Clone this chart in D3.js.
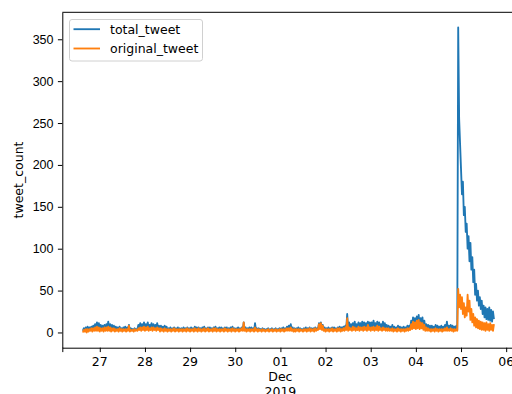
<!DOCTYPE html>
<html>
<head>
<meta charset="utf-8">
<script src="https://cdn.jsdelivr.net/npm/d3@7"></script>
<style>
  html, body { margin: 0; padding: 0; background: #fff; overflow: hidden; }
  svg { display: block; font-family: "DejaVu Sans", sans-serif; }
</style>
</head>
<body>
<svg id="chart" width="512" height="394"></svg>
<script>
// Half-hourly tweet counts, starting 26 Nov 2019 15:00 UTC
const seriesStart = "2019-11-26T15:00:00Z";
const stepMinutes = 30;

const totalTweet = [
  // 26 Nov 15:00-23:30
  2,5,3,6,2,7,3,6,4,7,3,8,4,10,5,12,4,11,
  // 27 Nov
  3,9,4,8,3,9,4,10, 5,13,4,10,3,9,4,8, 2,7,3,6,2,7,3,5, 2,6,3,7,2,6,3,9, 2,5,3,4,2,5,3,4, 4,9,5,11,4,10,5,12,
  // 28 Nov
  4,10,5,12,4,9,5,11, 4,10,5,9,4,11,5,8, 3,8,4,7,3,8,4,7, 2,5,3,6,2,5,3,6, 2,5,3,6,2,5,3,5, 2,6,3,5,2,6,3,5,
  // 29 Nov
  2,6,3,5,2,7,3,6, 2,6,3,5,2,6,3,7, 2,5,3,6,2,6,3,5, 2,6,3,7,2,5,3,6, 2,6,3,5,2,6,3,6, 2,5,3,6,2,7,3,5,
  // 30 Nov
  2,5,3,6,2,5,3,6, 3,12,3,6,2,5,3,6, 2,6,3,5,2,11,3,5, 2,5,3,4,2,5,3,4, 2,4,3,5,2,4,3,5, 2,4,3,5,2,4,3,5,
  // 01 Dec
  2,5,3,6,2,5,3,7, 3,8,4,10,3,6,2,5, 2,5,3,6,2,5,3,4, 2,5,3,6,2,5,3,6, 2,5,3,5,2,6,3,5, 4,11,5,12,4,9,3,6,
  // 02 Dec
  2,5,3,6,2,5,3,6, 2,6,3,5,2,6,3,7, 2,6,3,7,3,8,5,22, 4,12,5,10,4,11,5,13, 4,10,5,12,4,11,5,13, 4,12,5,11,4,13,5,12,
  // 03 Dec
  4,12,5,14,4,11,5,13, 4,12,5,10,4,13,5,11, 3,9,4,8,3,7,4,9, 3,7,4,6,3,8,4,7, 3,6,4,7,3,6,4,8, 3,8,5,14,6,18,7,17,
  // 04 Dec
  6,19,7,21,6,17,7,18, 5,14,4,10,4,9,3,8, 3,8,4,7,3,9,4,8, 3,7,4,8,3,7,4,9, 4,13,3,8,4,9,3,8, 3,7,4,8,3,364,255,225,
  // 05 Dec 00:00-17:30
  195,165,180,140,150,120,130,100,115,85,107,75,90,60,75,45,58,38,50,32,42,28,38,22,32,18,30,16,28,15,30,14,27,13,25,16
];

const originalTweet = [
  // 26 Nov 15:00-23:30
  0,3,1,4,0,4,1,4,2,5,1,5,2,6,2,7,2,6,
  // 27 Nov
  1,5,2,5,1,6,2,6, 2,7,2,6,1,5,2,5, 1,4,2,4,1,5,2,4, 1,4,2,4,1,4,2,8, 1,3,2,3,1,4,2,3, 2,5,3,6,2,6,3,7,
  // 28 Nov
  2,6,3,7,2,5,3,6, 2,6,3,5,2,6,3,5, 1,5,2,4,1,5,2,4, 1,4,2,4,1,4,2,5, 1,4,2,4,1,4,2,4, 1,4,2,4,1,5,2,4,
  // 29 Nov
  1,4,2,4,1,5,2,4, 1,5,2,4,1,4,2,5, 1,4,2,5,1,4,2,4, 1,5,2,5,1,4,2,4, 1,4,2,4,1,5,2,4, 1,4,2,4,1,5,2,4,
  // 30 Nov
  1,4,2,4,1,4,2,5, 2,12,2,4,1,4,2,4, 1,4,2,4,1,6,2,4, 1,4,2,3,1,4,2,3, 1,3,2,4,1,3,2,4, 1,3,2,4,1,3,2,4,
  // 01 Dec
  1,4,2,4,1,4,2,5, 2,5,2,6,2,4,1,4, 1,4,2,4,1,4,2,3, 1,4,2,4,1,4,2,5, 1,4,2,4,1,5,2,4, 3,10,4,11,3,8,2,4,
  // 02 Dec
  1,4,2,4,1,4,2,5, 1,4,2,4,1,5,2,5, 1,4,2,5,2,6,3,17, 2,6,3,5,2,7,3,6, 2,5,3,7,2,6,3,6, 2,7,3,6,2,9,3,6,
  // 03 Dec
  2,6,3,7,2,6,3,8, 2,7,3,5,2,6,3,5, 2,5,2,5,2,4,2,5, 1,4,2,4,1,5,2,4, 1,4,2,4,1,4,2,5, 2,5,3,10,4,13,5,12,
  // 04 Dec
  4,14,5,15,4,12,5,11, 3,9,2,6,2,5,2,4, 1,4,2,4,1,5,2,4, 1,4,2,4,1,4,2,5, 2,6,2,4,2,5,2,4, 1,4,2,4,2,52,30,45,
  // 05 Dec 00:00-17:30
  28,42,22,35,18,30,20,45,25,38,15,28,12,22,8,18,6,16,5,14,4,13,3,12,3,11,2,12,3,10,2,11,3,9,2,10
];

const seriesNames = ["total_tweet", "original_tweet"];
const seriesColors = ["#1f77b4", "#ff7f0e"];

const dayTicks = ["2019-11-27", "2019-11-28", "2019-11-29", "2019-11-30", "2019-12-01",
                  "2019-12-02", "2019-12-03", "2019-12-04", "2019-12-05", "2019-12-06"];
const dayLabels = [["27"], ["28"], ["29"], ["30"], ["01", "Dec", "2019"],
                   ["02"], ["03"], ["04"], ["05"], ["06"]];
const yTicks = [0, 50, 100, 150, 200, 250, 300, 350];
const yLabel = "tweet_count";

// ---- layout
const plot = { left: 62.3, right: 514.5, top: 12.3, bottom: 347.7 };
const tickLen = 4.4;
const fontSize = 12.5;
const lineGap = 14.8;

const svg = d3.select("#chart");

const t0 = new Date(seriesStart);
const times = totalTweet.map((_, i) => d3.utcMinute.offset(t0, i * stepMinutes));

// 5% margins around the data extent on both axes
const [tMin, tMax] = d3.extent(times);
const tPad = (tMax - tMin) * 0.05;
const x = d3.scaleUtc()
  .domain([new Date(+tMin - tPad), new Date(+tMax + tPad)])
  .range([plot.left, plot.right]);

const allValues = totalTweet.concat(originalTweet);
const yMax = d3.max(allValues);
const yMin = d3.min(allValues);
const yPad = (yMax - yMin) * 0.05;
const y = d3.scaleLinear()
  .domain([yMin - yPad, yMax + yPad])
  .range([plot.bottom, plot.top]);

// ---- series
svg.append("defs").append("clipPath").attr("id", "plotClip")
  .append("rect")
  .attr("x", plot.left).attr("y", plot.top)
  .attr("width", plot.right - plot.left).attr("height", plot.bottom - plot.top);

const seriesData = [totalTweet, originalTweet];
const line = d3.line()
  .x((d, i) => x(times[i]))
  .y(d => y(d));

svg.append("g").attr("clip-path", "url(#plotClip)")
  .selectAll("path")
  .data(seriesData)
  .join("path")
  .attr("d", d => line(d))
  .attr("fill", "none")
  .attr("stroke", (d, i) => seriesColors[i])
  .attr("stroke-width", 1.85)
  .attr("stroke-linejoin", "round");

// ---- x axis: day ticks plus an unlabelled tick at the left limit
const tickDates = dayTicks.map(s => new Date(s + "T00:00:00Z"));
const xTickValues = [x.domain()[0]].concat(tickDates);

svg.append("g")
  .attr("class", "x-axis")
  .attr("transform", `translate(0,${plot.bottom})`)
  .call(d3.axisBottom(x)
    .tickValues(xTickValues)
    .tickSize(tickLen)
    .tickSizeOuter(0)
    .tickFormat(""));
svg.selectAll(".x-axis .tick text").remove();

// ---- y axis
const yAxis = svg.append("g")
  .attr("transform", `translate(${plot.left},0)`)
  .call(d3.axisLeft(y)
    .tickValues(yTicks)
    .tickSize(tickLen)
    .tickSizeOuter(0)
    .tickPadding(4.4));
yAxis.selectAll(".tick text").attr("font-size", fontSize).attr("fill", "#000");

svg.selectAll(".domain, .tick line").attr("stroke", "#000").attr("stroke-width", 1);

// top and right spines
svg.append("line")
  .attr("x1", plot.left).attr("x2", plot.right)
  .attr("y1", plot.top).attr("y2", plot.top)
  .attr("stroke", "#000").attr("stroke-width", 1);
svg.append("line")
  .attr("x1", plot.right).attr("x2", plot.right)
  .attr("y1", plot.top).attr("y2", plot.bottom)
  .attr("stroke", "#000").attr("stroke-width", 1);

// y axis title
svg.append("text")
  .attr("transform", `translate(18,${(plot.top + plot.bottom) / 2}) rotate(-90)`)
  .attr("text-anchor", "middle")
  .attr("dominant-baseline", "central")
  .attr("font-size", fontSize)
  .attr("fill", "#000")
  .text(yLabel);

// ---- legend
const legend = svg.append("g").attr("transform", "translate(69.5,19.5)");
legend.append("rect")
  .attr("width", 133).attr("height", 41.5)
  .attr("rx", 2.5)
  .attr("fill", "#fff").attr("fill-opacity", 0.8)
  .attr("stroke", "#d0d0d0").attr("stroke-width", 1);

const items = legend.selectAll("g.item")
  .data(seriesNames)
  .join("g")
  .attr("class", "item")
  .attr("transform", (d, i) => `translate(0,${9.7 + i * 19.3})`);
items.append("line")
  .attr("x1", 4).attr("x2", 30.5)
  .attr("stroke", (d, i) => seriesColors[i])
  .attr("stroke-width", 1.85);
items.append("text")
  .attr("x", 40.5)
  .attr("dominant-baseline", "central")
  .attr("font-size", fontSize)
  .attr("fill", "#000")
  .text(d => d);

// x tick labels, drawn last; multi-line labels stack one text per row
const xLabelRows = [];
tickDates.forEach((d, i) => {
  dayLabels[i].forEach((txt, k) => xLabelRows.push({ date: d, row: k, text: txt }));
});
svg.append("g")
  .attr("class", "x-labels")
  .selectAll("text")
  .data(xLabelRows)
  .join("text")
  .attr("x", d => x(d.date))
  .attr("y", d => plot.bottom + 18.3 + d.row * lineGap)
  .attr("text-anchor", "middle")
  .attr("font-size", fontSize)
  .attr("fill", "#000")
  .text(d => d.text);
</script>
</body>
</html>
